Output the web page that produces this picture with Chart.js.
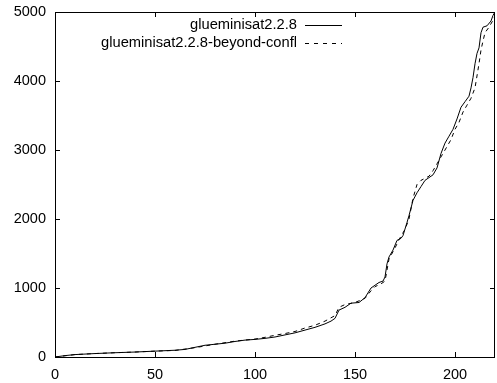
<!DOCTYPE html>
<html>
<head>
<meta charset="utf-8">
<script src="https://cdn.jsdelivr.net/npm/chart.js@4"></script>
<style>
  html, body { margin: 0; padding: 0; background: #fff; }
  #wrap { width: 497px; height: 383px; }
</style>
</head>
<body>
<div id="wrap"><canvas id="c" width="497" height="383"></canvas></div>
<script>
// values (x = number of solved, y = time)
var solidLabel = "glueminisat2.2.8";
var solidX = [0, 5, 10, 20, 30, 40, 50, 60, 65, 70, 75, 80, 85, 90, 95, 100, 105, 110, 115, 120, 125, 130, 135, 138, 140, 142, 145, 148, 152, 155, 158, 160, 162, 164, 165, 166, 167, 169, 171, 173, 174, 176, 177, 179, 181, 183, 185, 187, 189, 191, 193, 195, 197, 199, 201, 203, 205, 207, 208, 209, 210, 211, 212, 213, 214, 216, 218, 219, 220];
var solidY = [0, 20, 35, 50, 62, 72, 85, 98, 110, 140, 170, 185, 200, 225, 245, 255, 270, 290, 320, 350, 390, 430, 480, 520, 560, 680, 720, 780, 790, 860, 1000, 1040, 1080, 1100, 1160, 1350, 1450, 1550, 1690, 1720, 1760, 1950, 2050, 2270, 2380, 2470, 2560, 2600, 2640, 2740, 2950, 3100, 3200, 3300, 3450, 3620, 3700, 3780, 3900, 4050, 4250, 4400, 4480, 4700, 4780, 4800, 4870, 4950, 5000];

var dashLabel = "glueminisat2.2.8-beyond-confl";
var dashX = [0, 10, 20, 30, 40, 50, 60, 70, 80, 90, 100, 105, 110, 115, 120, 125, 130, 135, 140, 142, 145, 150, 155, 158, 160, 163, 165, 167, 170, 172, 175, 177, 179, 181, 183, 185, 187, 189, 191, 193, 195, 198, 200, 202, 204, 206, 208, 210, 212, 213, 214, 215, 217, 219, 220];
var dashY = [0, 35, 50, 62, 72, 85, 95, 135, 185, 230, 260, 285, 315, 340, 370, 420, 460, 520, 600, 720, 760, 790, 850, 960, 1020, 1060, 1100, 1420, 1580, 1700, 1850, 2000, 2300, 2500, 2560, 2590, 2620, 2700, 2800, 2900, 3000, 3150, 3300, 3400, 3550, 3650, 3750, 3900, 4250, 4450, 4580, 4700, 4780, 4880, 4950];

var xMin = 0, xMax = 220, xStep = 50;
var yMin = 0, yMax = 5000, yStep = 1000;

var fontFam = "'Liberation Sans', Arial, sans-serif";

function toPoints(xs, ys) {
    let pts = [];
    xs.forEach((x, i) => {
        pts.push({x: x, y: ys[i]});
    });
    return pts;
}

// only keep ticks that fall on the step (no label at the 220 edge)
function keepStepTicks(step) {
    return function(scale) {
        scale.ticks = scale.ticks.filter((t) => t.value % step === 0);
    };
}

// gnuplot style frame, inward ticks on all four sides, legend top right
var gnuplotBits = {
    id: "gnuplotBits",
    afterDraw: function(chart) {
        let ctx = chart.ctx;
        let a = chart.chartArea;
        let xs = chart.scales.x;
        let ys = chart.scales.y;
        ctx.save();
        ctx.strokeStyle = "#000";
        ctx.lineWidth = 1;
        ctx.setLineDash([]);
        ctx.strokeRect(a.left + 0.5, a.top + 0.5, a.right - a.left - 1, a.bottom - a.top);

        let tl = 5;
        ctx.beginPath();
        for (let v = xMin; v <= xMax; v += xStep) {
            let px = Math.round(xs.getPixelForValue(v)) + 0.5;
            ctx.moveTo(px, a.bottom);
            ctx.lineTo(px, a.bottom - tl);
            ctx.moveTo(px, a.top);
            ctx.lineTo(px, a.top + tl);
        }
        for (let v = yMin; v <= yMax; v += yStep) {
            let py = Math.round(ys.getPixelForValue(v)) + 0.5;
            ctx.moveTo(a.left, py);
            ctx.lineTo(a.left + tl, py);
            ctx.moveTo(a.right, py);
            ctx.lineTo(a.right - tl, py);
        }
        ctx.stroke();

        // legend
        ctx.font = "14.7px " + fontFam;
        ctx.fillStyle = "#000";
        ctx.textAlign = "right";
        ctx.textBaseline = "middle";
        let rows = [[solidLabel, []], [dashLabel, [4, 5]]];
        rows.forEach((row, i) => {
            let y = 25 + i * 18;
            ctx.fillText(row[0], 297, y);
            ctx.setLineDash(row[1]);
            ctx.beginPath();
            ctx.moveTo(305, y + 0.5);
            ctx.lineTo(342, y + 0.5);
            ctx.stroke();
        });
        ctx.restore();
    }
};

let chartData = {
    datasets: [{
        label: solidLabel,
        data: toPoints(solidX, solidY),
        borderColor: "#000",
        borderWidth: 1,
        pointRadius: 0,
        tension: 0,
        fill: false
    }, {
        label: dashLabel,
        data: toPoints(dashX, dashY),
        borderColor: "#000",
        borderWidth: 1,
        borderDash: [4, 4],
        pointRadius: 0,
        tension: 0,
        fill: false
    }]
};

let config = {
    type: "line",
    data: chartData,
    options: {
        responsive: false,
        animation: false,
        layout: {
            padding: {top: 12, right: 2, left: 0, bottom: 0}
        },
        plugins: {
            legend: { display: false },
            tooltip: { enabled: false }
        },
        scales: {
            x: {
                type: "linear",
                min: xMin,
                max: xMax,
                grid: { display: false, drawTicks: false },
                border: { display: false },
                afterBuildTicks: keepStepTicks(xStep),
                ticks: {
                    stepSize: xStep,
                    color: "#000",
                    padding: 9,
                    maxRotation: 0,
                    font: { family: fontFam, size: 14.5 },
                    callback: function(value) { return String(value); }
                },
                afterFit: function(scale) {
                    scale.height = 26;
                    scale.paddingRight = 0;
                }
            },
            y: {
                min: yMin,
                max: yMax,
                grid: { display: false, drawTicks: false },
                border: { display: false },
                ticks: {
                    stepSize: yStep,
                    color: "#000",
                    padding: 9,
                    font: { family: fontFam, size: 14.5 },
                    callback: function(value) { return String(value); }
                },
                afterFit: function(scale) {
                    scale.width = 55;
                    scale.paddingTop = 0;
                    scale.paddingBottom = 0;
                }
            }
        }
    },
    plugins: [gnuplotBits]
};

const chart1 = new Chart(document.getElementById("c"), config);
</script>
</body>
</html>
